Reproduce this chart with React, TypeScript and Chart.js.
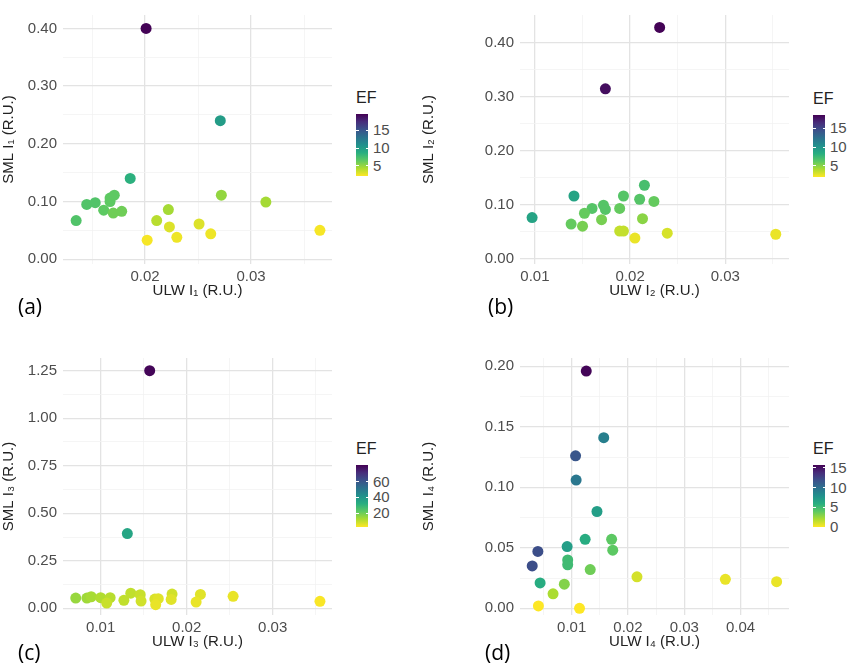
import React, { useEffect, useRef } from "react";
import { Chart, registerables } from "chart.js";
Chart.register(...registerables);

// ---- data ----
const ulw1 = [0.0201, 0.0271, 0.0186, 0.0135, 0.0145, 0.0153, 0.0161, 0.0167, 0.0167, 0.0171, 0.0170, 0.0178, 0.0272, 0.0314, 0.0222, 0.0211, 0.0223, 0.0230, 0.0202, 0.0251, 0.0262, 0.0365];
const sml1 = [0.400, 0.240, 0.140, 0.067, 0.095, 0.098, 0.085, 0.100, 0.106, 0.111, 0.080, 0.083, 0.111, 0.099, 0.086, 0.067, 0.056, 0.038, 0.033, 0.061, 0.044, 0.050];
const ef1 = [19.5, 10, 8.5, 7, 7, 7, 6.5, 6.5, 6.5, 6.5, 6, 6, 5, 4.5, 4.5, 4, 3, 2.5, 2.3, 3, 2.5, 2.3];

const ulw2 = [0.0231, 0.0174, 0.0141, 0.0097, 0.0215, 0.0193, 0.0210, 0.0225, 0.0172, 0.0174, 0.0160, 0.0152, 0.0189, 0.0138, 0.0150, 0.0170, 0.0213, 0.0189, 0.0193, 0.0205, 0.0239, 0.0353];
const sml2 = [0.429, 0.315, 0.116, 0.076, 0.136, 0.116, 0.110, 0.106, 0.099, 0.091, 0.093, 0.084, 0.093, 0.064, 0.060, 0.072, 0.074, 0.051, 0.051, 0.038, 0.047, 0.045];
const ef2 = [18.5, 18, 9, 9, 7, 6.5, 6.5, 6, 6.5, 6.5, 6.5, 6, 6, 6, 5.5, 5.5, 5, 3.5, 3.5, 2.5, 3, 2.5];

const ulw3 = [0.0157, 0.0131, 0.0071, 0.0084, 0.0089, 0.0100, 0.0111, 0.0107, 0.0127, 0.0135, 0.0146, 0.0147, 0.0163, 0.0167, 0.0164, 0.0183, 0.0182, 0.0216, 0.0211, 0.0254, 0.0355];
const sml3 = [1.250, 0.393, 0.054, 0.054, 0.061, 0.056, 0.056, 0.028, 0.042, 0.080, 0.072, 0.038, 0.049, 0.051, 0.019, 0.075, 0.047, 0.073, 0.033, 0.063, 0.037];
const ef3 = [80, 35, 15, 14, 13, 12, 11, 9, 10, 10, 9, 8, 7, 6, 5, 8, 6, 6, 5, 5, 3];

const ulw4 = [0.0126, 0.0157, 0.0107, 0.0108, 0.0145, 0.0124, 0.0171, 0.0173, 0.0092, 0.0093, 0.0093, 0.0040, 0.0030, 0.0044, 0.0087, 0.0067, 0.0133, 0.0216, 0.0373, 0.0464, 0.0041, 0.0114];
const sml4 = [0.196, 0.141, 0.126, 0.106, 0.080, 0.057, 0.057, 0.048, 0.051, 0.040, 0.036, 0.047, 0.035, 0.021, 0.020, 0.012, 0.032, 0.026, 0.024, 0.022, 0.002, 0.000];
const ef4 = [15.5, 9, 11.5, 9.5, 7, 6, 4, 4, 7, 5, 5, 12, 12, 6, 3, 2, 3.5, 1, 0.5, 0.5, 0, 0];

const xMajor1 = [0.02, 0.03], xMinor1 = [0.015, 0.025, 0.035];
const yMajor1 = [0, 0.1, 0.2, 0.3, 0.4], yMinor1 = [0.05, 0.15, 0.25, 0.35];
const xMajor2 = [0.01, 0.02, 0.03], xMinor2 = [0.015, 0.025, 0.035];
const yMajor2 = [0, 0.1, 0.2, 0.3, 0.4], yMinor2 = [0.05, 0.15, 0.25, 0.35];
const xMajor3 = [0.01, 0.02, 0.03], xMinor3 = [0.015, 0.025, 0.035];
const yMajor3 = [0, 0.25, 0.5, 0.75, 1.0, 1.25], yMinor3 = [0.125, 0.375, 0.625, 0.875, 1.125];
const xMajor4 = [0.01, 0.02, 0.03, 0.04], xMinor4 = [0.005, 0.015, 0.025, 0.035, 0.045];
const yMajor4 = [0, 0.05, 0.1, 0.15, 0.2], yMinor4 = [0.025, 0.075, 0.125, 0.175];

const efTicks1 = [5, 10, 15], efTicks2 = [5, 10, 15], efTicks3 = [20, 40, 60], efTicks4 = [0, 5, 10, 15];

const VIR = ["#fde725", "#addc30", "#5ec962", "#28ae80", "#21918c", "#2c728e", "#3b528b", "#472d7b", "#440154"];
function hex(c: string) { return [1, 3, 5].map((i) => parseInt(c.slice(i, i + 2), 16)); }
function viridis(t: number) {
  t = Math.max(0, Math.min(1, t));
  const p = t * (VIR.length - 1), i = Math.min(Math.floor(p), VIR.length - 2), f = p - i;
  const a = hex(VIR[i]), b = hex(VIR[i + 1]);
  return `rgb(${a.map((v, k) => Math.round(v + (b[k] - v) * f)).join(",")})`;
}

const FONT = "'Liberation Sans', Arial, sans-serif";

type P = {
  left: number; top: number; w: number; h: number; yw: number; padT: number; padR: number;
  xs: number[]; ys: number[]; ef: number[]; efMin: number; efMax: number; efTicks: number[];
  xMin: number; xMax: number; yMin: number; yMax: number;
  xMaj: number[]; xMin_: number[]; yMaj: number[]; yMin_: number[]; xDec: number; yDec: number;
  sub: string; label: string; barLeft: number; barTop: number; labelPos: [number, number];
};

function Panel({ p }: { p: P }) {
  const ref = useRef<HTMLCanvasElement>(null);
  useEffect(() => {
    const mk = (maj: number[], mn: number[]) => [...maj, ...mn].sort((a, b) => a - b).map((v) => ({ value: v }));
    const isMaj = (maj: number[], v: number) => maj.some((m) => Math.abs(m - v) < 1e-9);
    const c = new Chart(ref.current!, {
      type: "scatter",
      data: {
        datasets: [{
          data: p.xs.map((x, i) => ({ x, y: p.ys[i] })),
          backgroundColor: p.ef.map((e) => viridis((e - p.efMin) / (p.efMax - p.efMin))),
          borderWidth: 0, pointRadius: 5.5, pointHoverRadius: 5.5,
        }],
      },
      options: {
        animation: false, responsive: false,
        layout: { padding: { top: p.padT, right: p.padR, left: 0, bottom: 0 } },
        plugins: { legend: { display: false }, tooltip: { enabled: false } },
        scales: {
          x: {
            type: "linear", min: p.xMin, max: p.xMax,
            afterBuildTicks: (s: any) => { s.ticks = mk(p.xMaj, p.xMin_); },
            afterFit: (s: any) => { s.height = 36; },
            border: { display: false },
            grid: { color: (ctx: any) => isMaj(p.xMaj, ctx.tick.value) ? "#e3e3e3" : "#f2f2f2", lineWidth: (ctx: any) => isMaj(p.xMaj, ctx.tick.value) ? 1.3 : 0.8, drawTicks: false },
            ticks: { autoSkip: false, maxRotation: 0, padding: 4, color: "#4d4d4d", font: { family: FONT, size: 15 }, callback: (v: any) => isMaj(p.xMaj, v) ? Number(v).toFixed(p.xDec) : "" },
            title: { display: true, text: `ULW I${p.sub} (R.U.)`, color: "#222", font: { family: FONT, size: 15 }, padding: { top: 0, bottom: 0 } },
          },
          y: {
            type: "linear", min: p.yMin, max: p.yMax,
            afterBuildTicks: (s: any) => { s.ticks = mk(p.yMaj, p.yMin_); },
            afterFit: (s: any) => { s.width = p.yw; },
            border: { display: false },
            grid: { color: (ctx: any) => isMaj(p.yMaj, ctx.tick.value) ? "#e3e3e3" : "#f2f2f2", lineWidth: (ctx: any) => isMaj(p.yMaj, ctx.tick.value) ? 1.3 : 0.8, drawTicks: false },
            ticks: { autoSkip: false, padding: 6, color: "#4d4d4d", font: { family: FONT, size: 15 }, callback: (v: any) => isMaj(p.yMaj, v) ? Number(v).toFixed(p.yDec) : "" },
            title: { display: true, text: `SML I${p.sub} (R.U.)`, color: "#222", font: { family: FONT, size: 15 }, padding: { top: 0, bottom: 2 } },
          },
        },
      },
    } as any);
    return () => c.destroy();
  }, []);
  const barH = 62, barW = 12;
  const grad = `linear-gradient(to top, ${VIR.join(",")})`;
  return (
    <>
      <canvas ref={ref} width={p.w} height={p.h} style={{ position: "absolute", left: p.left, top: p.top, width: p.w, height: p.h }} />
      <div style={{ position: "absolute", left: p.barLeft, top: p.barTop - 25, font: `16px ${FONT}`, color: "#222" }}>EF</div>
      <div style={{ position: "absolute", left: p.barLeft, top: p.barTop, width: barW, height: barH, background: grad }} />
      {p.efTicks.map((t) => {
        const y = p.barTop + ((p.efMax - t) / (p.efMax - p.efMin)) * barH;
        return (
          <React.Fragment key={t}>
            <div style={{ position: "absolute", left: p.barLeft, top: y - 0.5, width: 2.5, height: 1, background: "#fff" }} />
            <div style={{ position: "absolute", left: p.barLeft + barW - 2.5, top: y - 0.5, width: 2.5, height: 1, background: "#fff" }} />
            <div style={{ position: "absolute", left: p.barLeft + barW + 5, top: y - 8, font: `15px ${FONT}`, color: "#4d4d4d", lineHeight: "16px" }}>{t}</div>
          </React.Fragment>
        );
      })}
      <div style={{ position: "absolute", left: p.labelPos[0], top: p.labelPos[1], font: `21px 'Open Sans', ${FONT}`, color: "#000" }}>{p.label}</div>
    </>
  );
}

const panels: P[] = [
  { left: 0, top: 0, w: 345, h: 300, yw: 63, padT: 5, padR: 13, xs: ulw1, ys: sml1, ef: ef1, efMin: 2.1, efMax: 19.6, efTicks: efTicks1,
    xMin: 0.01226, xMax: 0.03764, yMin: -0.0083, yMax: 0.4232, xMaj: xMajor1, xMin_: xMinor1, yMaj: yMajor1, yMin_: yMinor1, xDec: 2, yDec: 2,
    sub: "₁", label: "(a)", barLeft: 356, barTop: 114, labelPos: [18, 292] },
  { left: 420, top: 0, w: 380, h: 300, yw: 100, padT: 7, padR: 11, xs: ulw2, ys: sml2, ef: ef2, efMin: 2, efMax: 18.6, efTicks: efTicks2,
    xMin: 0.00843, xMax: 0.03669, yMin: -0.0102, yMax: 0.452, xMaj: xMajor2, xMin_: xMinor2, yMaj: yMajor2, yMin_: yMinor2, xDec: 2, yDec: 2,
    sub: "₂", label: "(b)", barLeft: 813, barTop: 115, labelPos: [488, 292] },
  { left: 0, top: 340, w: 345, h: 311, yw: 63, padT: 18, padR: 13, xs: ulw3, ys: sml3, ef: ef3, efMin: 2.5, efMax: 81, efTicks: efTicks3,
    xMin: 0.00562, xMax: 0.0369, yMin: -0.035, yMax: 1.3165, xMaj: xMajor3, xMin_: xMinor3, yMaj: yMajor3, yMin_: yMinor3, xDec: 2, yDec: 2,
    sub: "₃", label: "(c)", barLeft: 356, barTop: 465, labelPos: [18, 638] },
  { left: 420, top: 340, w: 380, h: 311, yw: 100, padT: 18, padR: 11, xs: ulw4, ys: sml4, ef: ef4, efMin: 0, efMax: 15.7, efTicks: efTicks4,
    xMin: 0.00083, xMax: 0.0486, yMin: -0.0055, yMax: 0.2068, xMaj: xMajor4, xMin_: xMinor4, yMaj: yMajor4, yMin_: yMinor4, xDec: 2, yDec: 2,
    sub: "₄", label: "(d)", barLeft: 813, barTop: 465, labelPos: [485, 638] },
];

export default function App() {
  return (
    <div style={{ position: "absolute", left: 0, top: 0, width: 856, height: 664, background: "#fff" }}>
      {panels.map((p, i) => <Panel key={i} p={p} />)}
    </div>
  );
}
